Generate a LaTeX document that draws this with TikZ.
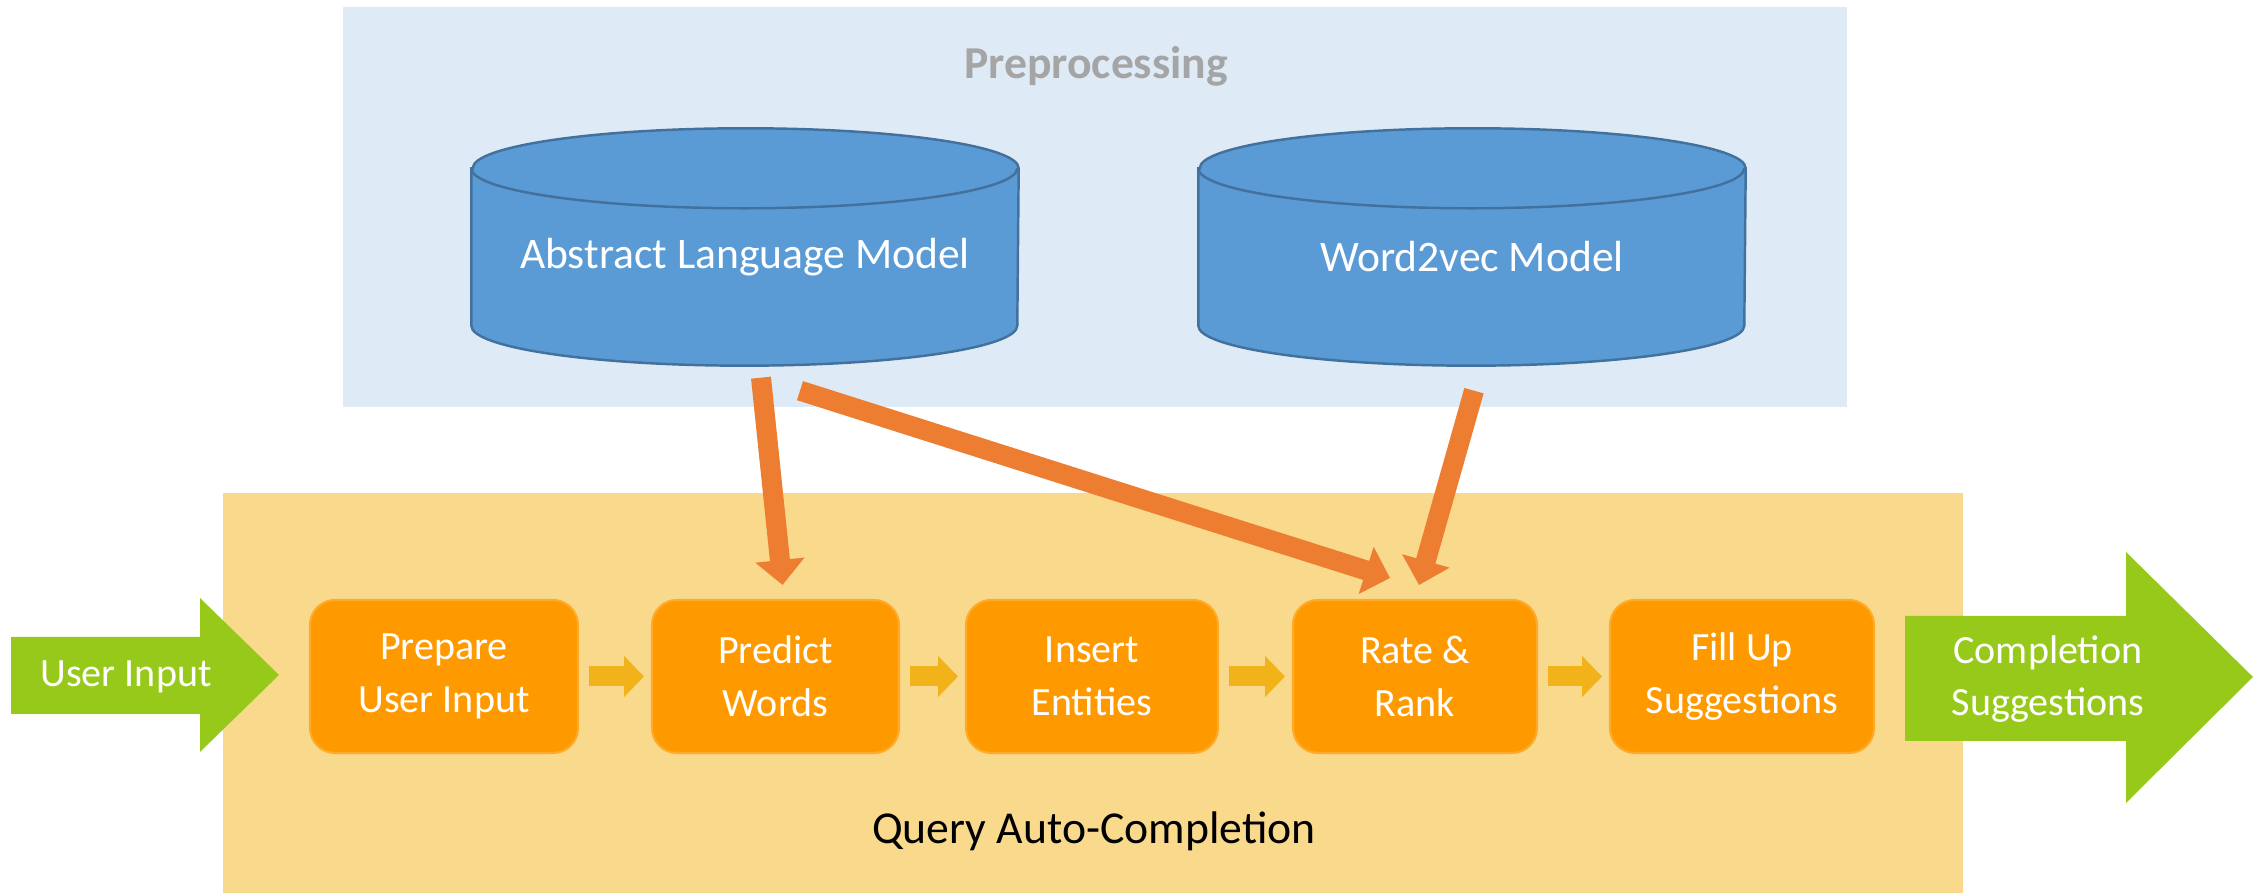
\documentclass[tikz,border=0pt]{standalone}
\usepackage{fontspec}
\setmainfont{Carlito}
\usepackage{xcolor}
\definecolor{prep-bg}{RGB}{222,235,247}
\definecolor{query-bg}{RGB}{249,217,139}
\definecolor{db-fill}{RGB}{91,155,213}
\definecolor{db-line}{RGB}{65,113,156}
\definecolor{step-fill}{RGB}{255,153,0}
\definecolor{step-edge}{RGB}{255,170,40}
\definecolor{link-orange}{RGB}{237,125,49}
\definecolor{flow-gold}{RGB}{242,178,26}
\definecolor{io-green}{RGB}{151,201,27}
\definecolor{label-gray}{RGB}{165,165,165}
\usetikzlibrary{arrows.meta,positioning}

\begin{document}
\begin{tikzpicture}[
    stage frame/.style={
        fill=#1,
        inner sep=0pt,
        minimum height=4cm
    },
    stage title/.style={font=\fontsize{13}{15}\selectfont},
    db body/.style={
        minimum width=5.46cm,
        minimum height=2.36cm,
        inner sep=0pt
    },
    db shape/.style={fill=db-fill, draw=db-line, line width=0.7pt},
    db label/.style={font=\fontsize{12.4}{15}\selectfont, text=white},
    step box/.style={
        rounded corners=0.25cm,
        fill=step-fill,
        draw=step-edge,
        line width=0.6pt,
        minimum height=1.53cm,
        inner sep=0pt,
        outer sep=0pt,
        align=center,
        text=white,
        font=\fontsize{11.4}{15}\selectfont
    },
    step link/.style={
        draw=flow-gold,
        line width=0.2cm,
        -{Triangle[width=0.40cm,length=0.20cm]},
        shorten <=0.11cm,
        shorten >=0.08cm
    },
    model link/.style={
        draw=link-orange,
        line width=0.2cm,
        -{Triangle[width=0.48cm,length=0.25cm]}
    },
    io arrow/.style={fill=io-green},
    io label/.style={
        text=white,
        align=center,
        font=\fontsize{11.4}{15}\selectfont
    }
]
\useasboundingbox (0,0) rectangle (22.62,8.93);

% Preprocessing area
\node[stage frame=prep-bg, minimum width=15.04cm] (prep) at (10.95,6.86) {};
\node[stage title, text=label-gray, font=\fontsize{13}{15}\selectfont\bfseries] (preptitle) at (10.96,8.27) {Preprocessing};

% Query auto-completion area
\node[stage frame=query-bg, minimum width=17.40cm] (query) at (10.93,2.00) {};
\node[stage title] (querytitle) at (10.94,0.62) {Query Auto-Completion};

% === MODELS ===
% Abstract language model
\node[db body] (dbA) at (7.45,6.46) {};
\filldraw[db shape] ([yshift=-4mm]dbA.north west) -- ([yshift=4mm]dbA.south west)
    arc[start angle=180, end angle=360, x radius=2.73cm, y radius=4mm]
    -- ([yshift=-4mm]dbA.north east)
    arc[start angle=0, end angle=180, x radius=2.73cm, y radius=4mm] -- cycle;
\draw[db shape, fill=none] ([yshift=-4mm]dbA.north west)
    arc[start angle=180, end angle=360, x radius=2.73cm, y radius=4mm];
\node[db label] at ([yshift=-1mm]dbA.center) {Abstract Language Model};

% Word2vec model
\node[db body] (dbB) at (14.72,6.46) {};
\filldraw[db shape] ([yshift=-4mm]dbB.north west) -- ([yshift=4mm]dbB.south west)
    arc[start angle=180, end angle=360, x radius=2.73cm, y radius=4mm]
    -- ([yshift=-4mm]dbB.north east)
    arc[start angle=0, end angle=180, x radius=2.73cm, y radius=4mm] -- cycle;
\draw[db shape, fill=none] ([yshift=-4mm]dbB.north west)
    arc[start angle=180, end angle=360, x radius=2.73cm, y radius=4mm];
\node[db label] at ([yshift=-1mm]dbB.center) {Word2vec Model};

% === PROCESSING STEPS ===
\node[step box, minimum width=2.68cm] (prepare) at (4.44,2.165) {Prepare\\User Input};
\node[step box, minimum width=2.47cm, right=0.74cm of prepare] (predict) {Predict\\Words};
\node[step box, minimum width=2.52cm, right=0.67cm of predict] (insert) {Insert\\Entities};
\node[step box, minimum width=2.44cm, right=0.75cm of insert] (rate) {Rate \&\\Rank};
\node[step box, minimum width=2.64cm, right=0.73cm of rate] (fillup) {Fill Up\\Suggestions};

\draw[step link] (prepare) -- (predict);
\draw[step link] (predict) -- (insert);
\draw[step link] (insert) -- (rate);
\draw[step link] (rate) -- (fillup);

% Model connections
\draw[model link] ([xshift=1.6mm,yshift=-1.2mm]dbA.south) -- ([xshift=0.7mm,yshift=1.5mm]predict.north);
\draw[model link] ([xshift=5.5mm,yshift=-2.5mm]dbA.south) -- ([xshift=-2.5mm,yshift=2.2mm]rate.north);
\draw[model link] ([xshift=0.2mm,yshift=-2.5mm]dbB.south) -- ([xshift=0.4mm,yshift=1.5mm]rate.north);

% Input and output
\fill[io arrow] (0.11,2.56) -- (2.00,2.56) -- (2.00,2.95) -- (2.79,2.18)
    -- (2.00,1.41) -- (2.00,1.79) -- (0.11,1.79) -- cycle;
\node[io label] (userin) at (1.26,2.16) {User Input};

\fill[io arrow] (19.05,2.77) -- (21.26,2.77) -- (21.26,3.41) -- (22.53,2.16)
    -- (21.26,0.90) -- (21.26,1.52) -- (19.05,1.52) -- cycle;
\node[io label] (suggout) at (20.48,2.14) {Completion\\Suggestions};

\end{tikzpicture}
\end{document}
